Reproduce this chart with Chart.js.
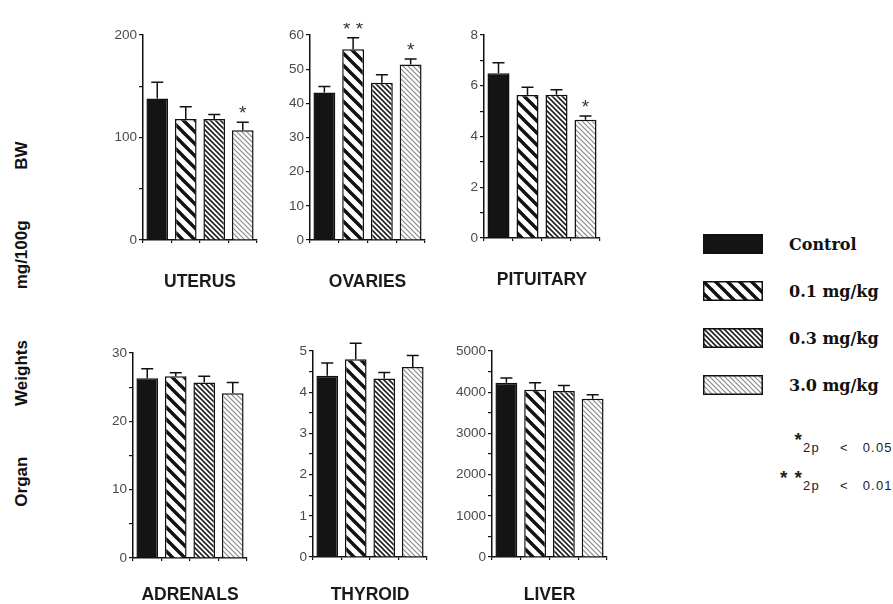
<!DOCTYPE html>
<html>
<head>
<meta charset="utf-8">
<script src="https://cdn.jsdelivr.net/npm/chart.js@4.4.1/dist/chart.umd.min.js"></script>
<style>
  html, body { margin: 0; padding: 0; background: #fff; }
  body { width: 893px; height: 604px; position: relative; overflow: hidden;
         font-family: "Liberation Sans", Arial, sans-serif; }
  canvas.panel { position: absolute; }
  #ytitle { position: absolute; left: 22px; top: 324px;
            transform: translate(-50%, -50%) rotate(-90deg);
            white-space: nowrap; font: bold 17px "Liberation Sans", Arial, sans-serif;
            word-spacing: 46px; color: #111; }
  canvas.swatch { position: absolute; left: 703px; }
  .legtxt { position: absolute; left: 789px; transform: translateY(-50%);
            white-space: nowrap; font: bold 16px "DejaVu Serif", serif; color: #111; }
  .star { position: absolute; white-space: nowrap; color: #222; text-align: right;
          font: bold 19px "Liberation Sans", Arial, sans-serif; letter-spacing: 1px;
          transform: translate(-100%, -50%); }
  .note { position: absolute; white-space: nowrap; color: #222; transform: translateY(-50%);
          font: 13px "Liberation Sans", Arial, sans-serif; letter-spacing: 1.2px; }
  .note .lt { margin: 0 14px 0 20px; }
</style>
</head>
<body>
<div id="ytitle">Organ Weights mg/100g BW</div>

<script>
// ---- data: mean organ weight (mg/100 g body weight) and SEM per dose group ----
const doses = ['Control', '0.1 mg/kg', '0.3 mg/kg', '3.0 mg/kg'];

const uterusMean = [138, 118, 118, 107];
const uterusSem  = [16, 12, 4.5, 8];
const uterusSig  = ['', '', '', '*'];
const uterusTicks = [0, 100, 200];

const ovariesMean = [43.2, 55.8, 46.0, 51.4];
const ovariesSem  = [1.7, 3.4, 2.4, 1.6];
const ovariesSig  = ['', '* *', '', '*'];
const ovariesTicks = [0, 10, 20, 30, 40, 50, 60];

const pituitaryMean = [6.49, 5.64, 5.65, 4.66];
const pituitarySem  = [0.42, 0.30, 0.19, 0.15];
const pituitarySig  = ['', '', '', '*'];
const pituitaryTicks = [0, 2, 4, 6, 8];

const adrenalsMean = [26.3, 26.6, 25.7, 24.1];
const adrenalsSem  = [1.4, 0.5, 0.9, 1.6];
const adrenalsSig  = ['', '', '', ''];
const adrenalsTicks = [0, 10, 20, 30];

const thyroidMean = [4.40, 4.80, 4.33, 4.61];
const thyroidSem  = [0.31, 0.39, 0.15, 0.28];
const thyroidSig  = ['', '', '', ''];
const thyroidTicks = [0, 1, 2, 3, 4, 5];

const liverMean = [4230, 4060, 4030, 3840];
const liverSem  = [115, 170, 135, 100];
const liverSig  = ['', '', '', ''];
const liverTicks = [0, 1000, 2000, 3000, 4000, 5000];

const significance = [['*', '2p', '<', '0.05'], ['* *', '2p', '<', '0.01']];

// ---- fill patterns for the four groups ----
function stripePattern(size, width, color) {
  const c = document.createElement('canvas');
  c.width = size; c.height = size;
  const g = c.getContext('2d');
  g.fillStyle = '#fff'; g.fillRect(0, 0, size, size);
  g.strokeStyle = color; g.lineWidth = width; g.lineCap = 'square';
  for (let k = -1; k <= 1; k++) {
    g.beginPath(); g.moveTo(k * size, 0); g.lineTo(k * size + size, size); g.stroke();
  }
  return c;
}
const tiles = [null, stripePattern(12, 3.4, '#111'), stripePattern(5, 1.6, '#222'), stripePattern(5, 1.2, '#8a8a8a')];
function fills(ctx) {
  return tiles.map(t => t ? ctx.createPattern(t, 'repeat') : '#141414');
}

// ---- error bars and significance marks ----
const errorBars = {
  id: 'errorBars',
  afterDatasetsDraw(chart) {
    const ctx = chart.ctx, y = chart.scales.y;
    const ds = chart.data.datasets[0];
    const meta = chart.getDatasetMeta(0);
    ctx.save();
    ctx.strokeStyle = '#111'; ctx.lineWidth = 1.5;
    ctx.fillStyle = '#333';
    ctx.font = '19px "Liberation Sans", Arial, sans-serif';
    ctx.textAlign = 'center'; ctx.textBaseline = 'alphabetic';
    meta.data.forEach((bar, i) => {
      const top = y.getPixelForValue(ds.data[i] + ds.sem[i]);
      ctx.beginPath();
      ctx.moveTo(bar.x, bar.y); ctx.lineTo(bar.x, top);
      ctx.moveTo(bar.x - 6, top); ctx.lineTo(bar.x + 6, top);
      ctx.stroke();
      if (ds.sig[i]) ctx.fillText(ds.sig[i], bar.x, top - 3);
    });
    ctx.restore();
  }
};

// ---- panel layout: plot area [left, top, right, bottom] and title centre ----
const panels = [
  { title: 'UTERUS',    mean: uterusMean,    sem: uterusSem,    sig: uterusSig,    ticks: uterusTicks,    max: 200,  step: 50,  area: [143, 35, 257, 240],  titleY: 282 },
  { title: 'OVARIES',   mean: ovariesMean,   sem: ovariesSem,   sig: ovariesSig,   ticks: ovariesTicks,   max: 60,   step: 5,   area: [310, 35, 425, 240],  titleY: 282 },
  { title: 'PITUITARY', mean: pituitaryMean, sem: pituitarySem, sig: pituitarySig, ticks: pituitaryTicks, max: 8,    step: 1,   area: [484, 35, 600, 238],  titleY: 280 },
  { title: 'ADRENALS',  mean: adrenalsMean,  sem: adrenalsSem,  sig: adrenalsSig,  ticks: adrenalsTicks,  max: 30,   step: 5,   area: [133, 353, 247, 558], titleY: 595 },
  { title: 'THYROID',   mean: thyroidMean,   sem: thyroidSem,   sig: thyroidSig,   ticks: thyroidTicks,   max: 5,    step: 0.5, area: [313, 351, 427, 557], titleY: 595 },
  { title: 'LIVER',     mean: liverMean,     sem: liverSem,     sig: liverSig,     ticks: liverTicks,     max: 5000, step: 500, area: [492, 351, 607, 557], titleY: 595 }
];

const Y_W = 45, PAD_T = 12, PAD_R = 4, TITLE_LH = 21;

panels.forEach(p => {
  const [ax, ay, ax2, ay2] = p.area;
  const left = ax - Y_W, top = ay - PAD_T;
  const width = ax2 - left + PAD_R;
  const height = Math.round(p.titleY - top + TITLE_LH / 2);
  const xHeight = top + height - ay2;

  const cv = document.createElement('canvas');
  cv.className = 'panel';
  cv.width = width; cv.height = height;
  cv.style.left = left + 'px'; cv.style.top = top + 'px';
  document.body.appendChild(cv);
  const ctx = cv.getContext('2d');

  new Chart(ctx, {
    type: 'bar',
    data: {
      labels: doses,
      datasets: [{
        data: p.mean, sem: p.sem, sig: p.sig,
        backgroundColor: fills(ctx),
        borderColor: '#111', borderWidth: 1.5,
        categoryPercentage: 1.0, barPercentage: 0.76
      }]
    },
    options: {
      responsive: false, animation: false, devicePixelRatio: 1,
      layout: { padding: { top: PAD_T, right: PAD_R, left: 0, bottom: 0 } },
      plugins: { legend: { display: false }, tooltip: { enabled: false } },
      scales: {
        x: {
          offset: true,
          border: { display: true, color: '#111', width: 1.5 },
          grid: { display: true, drawOnChartArea: false, drawTicks: true, tickLength: 3, color: '#111', lineWidth: 1.2, offset: true },
          ticks: { display: false },
          title: { display: true, text: p.title, color: '#1a1a1a', padding: 0,
                   font: { family: '"Liberation Sans", Arial, sans-serif', size: 17.5, weight: 'bold', lineHeight: 1.2 } },
          afterFit: s => { s.height = xHeight; }
        },
        y: {
          min: 0, max: p.max,
          border: { display: true, color: '#111', width: 1.5 },
          grid: { display: true, drawOnChartArea: false, drawTicks: true, tickLength: 4, color: '#111', lineWidth: 1.2 },
          ticks: {
            stepSize: p.step, padding: 2, color: '#4a4a4a',
            font: { family: '"Liberation Sans", Arial, sans-serif', size: 13.5 },
            callback: v => p.ticks.some(t => Math.abs(t - v) < 1e-9) ? String(v) : ''
          },
          afterFit: s => { s.width = Y_W; }
        }
      }
    },
    plugins: [errorBars]
  });
});

// ---- legend ----
const legendCenters = [244, 291, 338, 385];
doses.forEach((d, i) => {
  const sw = document.createElement('canvas');
  sw.className = 'swatch';
  sw.width = 60; sw.height = 20;
  sw.style.top = (legendCenters[i] - 10) + 'px';
  document.body.appendChild(sw);
  const g = sw.getContext('2d');
  g.fillStyle = fills(g)[i];
  g.fillRect(0, 0, 60, 20);
  g.strokeStyle = '#111'; g.lineWidth = 1.5;
  g.strokeRect(0.75, 0.75, 58.5, 18.5);

  const t = document.createElement('div');
  t.className = 'legtxt';
  t.style.top = legendCenters[i] + 'px';
  t.textContent = d;
  document.body.appendChild(t);
});

// ---- significance key ----
const noteRows = [{ starY: 440, textY: 447 }, { starY: 478, textY: 485 }];
significance.forEach((row, i) => {
  const s = document.createElement('div');
  s.className = 'star';
  s.style.left = '803px';
  s.style.top = noteRows[i].starY + 'px';
  s.textContent = row[0];
  document.body.appendChild(s);

  const n = document.createElement('div');
  n.className = 'note';
  n.style.left = '803px';
  n.style.top = noteRows[i].textY + 'px';
  const sub = document.createElement('span'); sub.textContent = row[1];
  const lt = document.createElement('span'); lt.className = 'lt'; lt.textContent = row[2];
  const val = document.createElement('span'); val.textContent = row[3];
  n.append(sub, lt, val);
  document.body.appendChild(n);
});
</script>
</body>
</html>
